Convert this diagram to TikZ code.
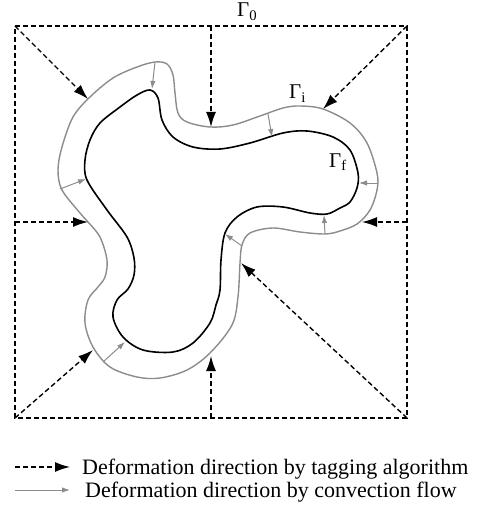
\documentclass[tikz,border=0pt]{standalone}
\usepackage{fontspec}
\setmainfont{Liberation Serif}
\usetikzlibrary{arrows.meta}
\definecolor{flowgray}{gray}{0.55}
\tikzset{
  tagarrow/.style={draw=black, line width=1.4pt, dash pattern=on 5pt off 3pt,
    -{Latex[length=15pt,width=10pt]}},
  flowarrow/.style={draw=flowgray, line width=1pt, -{Latex[length=8pt,width=5.5pt]}},
  frame/.style={draw=black, line width=1.4pt, dash pattern=on 5pt off 3pt},
  innercurve/.style={draw=black, line width=1.6pt},
  outercurve/.style={draw=flowgray, line width=1.4pt},
  gammalabel/.style={inner sep=0pt, anchor=base west, font=\fontsize{21}{25}\selectfont},
  legendtext/.style={inner sep=0pt, anchor=base west, font=\fontsize{22}{26}\selectfont}
}
\begin{document}
\begin{tikzpicture}[x=1pt, y=-1pt]
\useasboundingbox (0,0) rectangle (479,524);

% outer dashed boundary Gamma_0
\coordinate (tl) at (15,26);
\coordinate (tr) at (407,26);
\coordinate (br) at (407,418);
\coordinate (bl) at (15,418);
\draw[frame] (tl) -- (tr) -- (br) -- (bl) -- cycle;

% initial interface Gamma_i
\draw[outercurve] plot[smooth cycle, tension=0.55] coordinates {
  (155,62) (167,64) (173,75) (175,93) (178,113) (187,122) (210,127) (233,125)
  (260,116) (283,108) (300,106) (323,109) (350,123) (367,143) (377,173) (377,190)
  (370,210) (357,224) (340,231) (325,234) (300,232) (273,228) (250,233) (242,245)
  (240,263) (238,297) (232,325) (210,353) (187,370) (160,378) (137,377) (110,367)
  (93,347) (85,323) (88,300) (98,287) (105,277) (107,260) (100,237) (88,222)
  (80,213) (62,190) (58,170) (62,147) (73,117) (90,97) (113,78) (137,67)};

% final interface Gamma_f
\draw[innercurve] plot[smooth cycle, tension=0.55] coordinates {
  (150,90) (158,98) (162,120) (173,137) (193,147) (220,149) (250,143) (283,133)
  (307,131) (333,137) (350,150) (358,173) (357,188) (350,202) (340,208) (327,214)
  (310,213) (283,207) (257,207) (237,217) (225,233) (221,260) (220,290) (216,305)
  (210,323) (193,343) (173,352) (143,350) (123,337) (113,317) (117,300) (128,289)
  (134,275) (134,258) (127,237) (107,210) (87,180) (85,160) (90,140) (100,123)
  (120,107) (137,95)};

% tagging-algorithm directions
\coordinate (tm) at (211,26);
\coordinate (lm) at (15,222);
\coordinate (rm) at (407,222);
\coordinate (bm) at (211,418);
\coordinate (t1) at (88,99);
\coordinate (t2) at (211,127);
\coordinate (t3) at (323,109);
\coordinate (t4) at (88,222);
\coordinate (t5) at (362,222);
\coordinate (t6) at (93,350);
\coordinate (t7) at (211,356);
\coordinate (t8) at (241,263);
\draw[tagarrow] (tl) -- (t1);
\draw[tagarrow] (tm) -- (t2);
\draw[tagarrow] (tr) -- (t3);
\draw[tagarrow] (lm) -- (t4);
\draw[tagarrow] (rm) -- (t5);
\draw[tagarrow] (bl) -- (t6);
\draw[tagarrow] (bm) -- (t7);
\draw[tagarrow] (br) -- (t8);

% convection-flow directions
\coordinate (g1a) at (155,62);  \coordinate (g1b) at (152,89);
\coordinate (g2a) at (268,114); \coordinate (g2b) at (272,137);
\coordinate (g3a) at (377,183); \coordinate (g3b) at (359,183);
\coordinate (g4a) at (325,234); \coordinate (g4b) at (324,215);
\coordinate (g5a) at (242,246); \coordinate (g5b) at (225,234);
\coordinate (g6a) at (60,189);  \coordinate (g6b) at (86,179);
\coordinate (g7a) at (103,362); \coordinate (g7b) at (125,342);
\draw[flowarrow] (g1a) -- (g1b);
\draw[flowarrow] (g2a) -- (g2b);
\draw[flowarrow] (g3a) -- (g3b);
\draw[flowarrow] (g4a) -- (g4b);
\draw[flowarrow] (g5a) -- (g5b);
\draw[flowarrow] (g6a) -- (g6b);
\draw[flowarrow] (g7a) -- (g7b);

% boundary labels
\node[gammalabel] (gam0) at (237,17) {Γ\textsubscript{0}};
\node[gammalabel] (gami) at (289,99) {Γ\textsubscript{i}};
\node[gammalabel] (gamf) at (329,167) {Γ\textsubscript{f}};

% legend
\coordinate (l1a) at (15,467); \coordinate (l1b) at (70,467);
\coordinate (l2a) at (15,490); \coordinate (l2b) at (70,490);
\draw[tagarrow] (l1a) -- (l1b);
\draw[flowarrow] (l2a) -- (l2b);
\node[legendtext] (leg1) at (82,474) {Deformation direction by tagging algorithm};
\node[legendtext] (leg2) at (85,497) {Deformation direction by convection flow};
\end{tikzpicture}
\end{document}
